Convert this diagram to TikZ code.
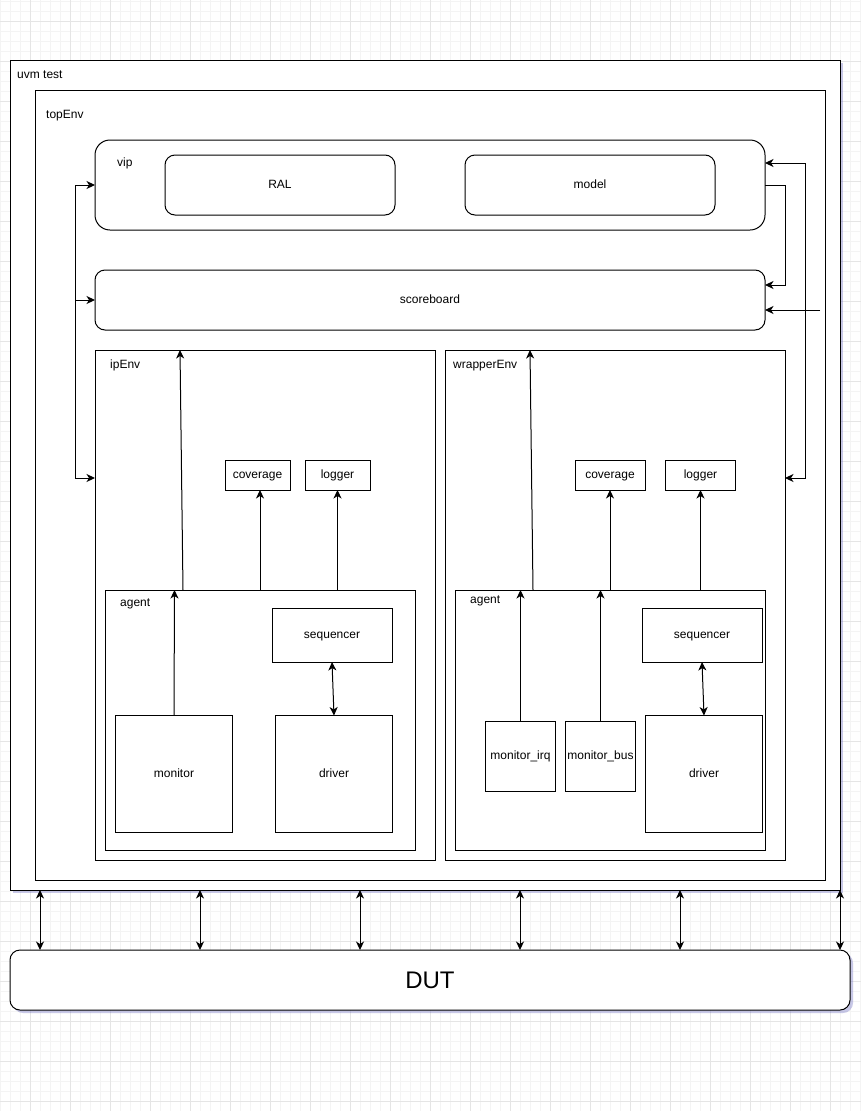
\documentclass[tikz,border=0pt]{standalone}
\usepackage{fontspec}
\setmainfont{Liberation Sans}
\usetikzlibrary{arrows.meta,calc,shadows}

\begin{document}
\begin{tikzpicture}[x=1pt,y=-1pt,
 box/.style={draw=black, fill=white, line width=1pt, inner sep=0pt, outer sep=0pt, rectangle, font=\fontsize{12}{14}\selectfont, text height=8.6pt, text depth=1pt},
 rbox/.style={box, rounded corners=10pt},
 lbl/.style={anchor=west, inner sep=0pt, font=\fontsize{12}{14}\selectfont, text height=8.6pt, text depth=1pt},
 tip/.tip={Stealth[length=8.5pt,width=8pt,inset=2.5pt]},
 arr/.style={line width=1pt, -tip},
 arrb/.style={line width=1pt, tip-tip},
 minorgrid/.style={draw=gray!9, line width=0.8pt},
 majorgrid/.style={draw=gray!20, line width=0.8pt},
 shad/.style={drop shadow={shadow xshift=3pt, shadow yshift=-3pt, opacity=0.3, fill=gray!60!blue}},
]
% background and grid
\fill[white] (0,0) rectangle (861,1111);
\useasboundingbox (0,0) rectangle (861,1111);
\foreach \x in {0,10,...,860} \draw[minorgrid] (\x,0) -- (\x,1111);
\foreach \y in {1.7,11.7,...,1111} \draw[minorgrid] (0,\y) -- (861,\y);
\foreach \x in {30,70,...,860} \draw[majorgrid] (\x,0) -- (\x,1111);
\foreach \y in {21.7,61.7,...,1111} \draw[majorgrid] (0,\y) -- (861,\y);

% containers
\node[box, shad, minimum width=830pt, minimum height=830pt] (uvm) at (425,475) {};
\node[lbl] (uvmLbl) at (17,75) {uvm test};
\node[box, minimum width=790pt, minimum height=790pt] (topEnv) at (430,485) {};
\node[lbl] (topLbl) at (46,115) {topEnv};

\node[box, rounded corners=15pt, minimum width=670pt, minimum height=90pt] (vip) at (430,185) {};
\node[lbl] (vipLbl) at (117,163) {vip};
\node[rbox, minimum width=230pt, minimum height=60pt] (RAL) at (280,185) {RAL};
\node[rbox, minimum width=250pt, minimum height=60pt] (model) at (590,185) {model};

\node[rbox, minimum width=670pt, minimum height=60pt] (scoreboard) at (430,300) {scoreboard};

\node[box, minimum width=340pt, minimum height=510pt] (ipEnv) at (265,605) {};
\node[lbl] (ipLbl) at (110,365) {ipEnv};
\node[box, minimum width=340pt, minimum height=510pt] (wrapperEnv) at (615,605) {};
\node[lbl] (wrLbl) at (453,365) {wrapperEnv};

\node[box, minimum width=65pt, minimum height=30pt] (cov1) at (257.5,475) {coverage};
\node[box, minimum width=65pt, minimum height=30pt] (log1) at (337.5,475) {logger};
\node[box, minimum width=70pt, minimum height=30pt] (cov2) at (610,475) {coverage};
\node[box, minimum width=70pt, minimum height=30pt] (log2) at (700.5,475) {logger};

% agent 1
\node[box, minimum width=310pt, minimum height=260pt] (agent1) at (260,720) {};
\node[lbl] (ag1Lbl) at (120,603) {agent};
\node[box, minimum width=120pt, minimum height=54pt] (seq1) at (332,635) {sequencer};
\node[box, minimum width=117pt, minimum height=117pt] (mon1) at (174,774) {monitor};
\node[box, minimum width=117pt, minimum height=117pt] (drv1) at (334,774) {driver};

% agent 2
\node[box, minimum width=310pt, minimum height=260pt] (agent2) at (610,720) {};
\node[lbl] (ag2Lbl) at (470,600) {agent};
\node[box, minimum width=120pt, minimum height=54pt] (seq2) at (702,635) {sequencer};
\node[box, minimum width=70pt, minimum height=70pt] (monirq) at (520.5,756) {monitor\_irq};
\node[box, minimum width=70pt, minimum height=70pt] (monbus) at (600.5,756) {monitor\_bus};
\node[box, minimum width=117pt, minimum height=117pt] (drv2) at (704,774) {driver};

% DUT
\node[rbox, shad, minimum width=840pt, minimum height=60pt, font=\fontsize{24}{28}\selectfont, text height=17.2pt, text depth=0.6pt] (DUT) at (430,980) {DUT};

% free connector ends
\coordinate (ipIn) at (95,478);
\coordinate (lbusSb) at (75,300);
\coordinate (sbInA) at (765,285);
\coordinate (vipIn) at (765,163);
\coordinate (wrIn) at (785,478);
\coordinate (extSb) at (820,310);
\coordinate (sbInB) at (765,310);

% top-level connectors
\draw[arrb] (vip.west) -- ++(-20,0) |- (ipIn);
\draw[arr] (lbusSb) -- (scoreboard.west);
\draw[arr] (vip.east) -- ++(20,0) |- (sbInA);
\draw[arrb] (vipIn) -- ++(40,0) |- (wrIn);
\draw[arr] (extSb) -- (sbInB);

% ipEnv connectors
\draw[arr] ($(agent1.north west)+(78,0)$) -- ($(ipEnv.north west)+(85,0)$);
\draw[arr] ($(cov1.south |- agent1.north)+(2.5,0)$) -- ($(cov1.south)+(2.5,0)$);
\draw[arr] (log1.south |- agent1.north) -- (log1.south);
\draw[arr] (mon1.north) -- ($(mon1.north |- agent1.north)+(0.5,0)$);
\draw[arrb] (seq1.south) -- (drv1.north);

% wrapperEnv connectors
\draw[arr] ($(agent2.north west)+(78,0)$) -- ($(wrapperEnv.north west)+(85,0)$);
\draw[arr] (cov2.south |- agent2.north) -- (cov2.south);
\draw[arr] (log2.south |- agent2.north) -- (log2.south);
\draw[arr] (monirq.north) -- (monirq.north |- agent2.north);
\draw[arr] (monbus.north) -- (monbus.north |- agent2.north);
\draw[arrb] (seq2.south) -- (drv2.north);

% DUT connectors
\foreach \x in {40,200,360,520,680,840}
  \draw[arrb] ($(uvm.south west)+(\x-10,0)$) -- ($(DUT.north west)+(\x-10,0)$);
\end{tikzpicture}
\end{document}
